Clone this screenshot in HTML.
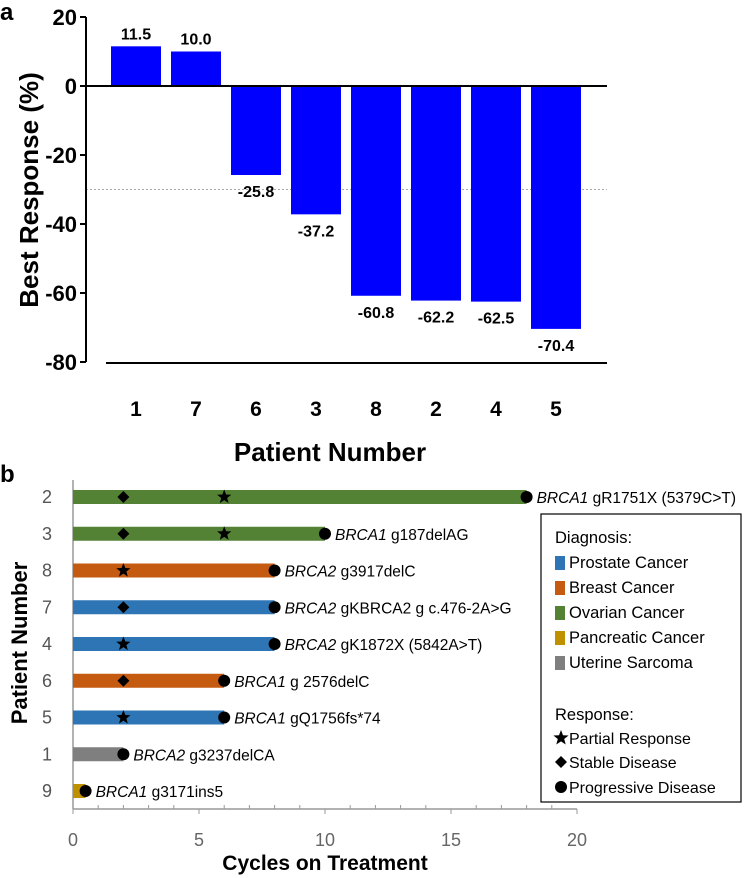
<!DOCTYPE html>
<html><head><meta charset="utf-8"><style>
body{margin:0;background:#fff;width:749px;height:878px;overflow:hidden}
svg{display:block}
</style></head><body>
<svg id="c" width="749" height="878" xmlns="http://www.w3.org/2000/svg">
<text x="0" y="20" font-family="Liberation Sans,sans-serif" font-weight="bold" font-size="24">a</text>
<text x="0" y="482" font-family="Liberation Sans,sans-serif" font-weight="bold" font-size="24">b</text>
<g id="ga"></g>
<g id="gb"></g>
</svg>
<script>
const patients=["1","7","6","3","8","2","4","5"];
const responses=[11.5,10.0,-25.8,-37.2,-60.8,-62.2,-62.5,-70.4];
const yTicks=[20,0,-20,-40,-60,-80];

const swimRows=["2","3","8","7","4","6","5","1","9"];
const swimCycles=[18,10,8,8,8,6,6,2,0.5];
const swimDiag=["ov","ov","br","pr","pr","br","pr","ut","pa"];
const swimMut=[["BRCA1"," gR1751X (5379C>T)"],["BRCA1"," g187delAG"],["BRCA2"," g3917delC"],["BRCA2"," gKBRCA2 g c.476-2A>G"],["BRCA2"," gK1872X (5842A>T)"],["BRCA1"," g 2576delC"],["BRCA1"," gQ1756fs*74"],["BRCA2"," g3237delCA"],["BRCA1"," g3171ins5"]];
const swimStable=[2,2,null,2,null,2,null,null,null];
const swimPartial=[6,6,2,null,2,null,2,null,null];
const xTicks=[0,5,10,15,20];

const NS="http://www.w3.org/2000/svg";
function mk(p,t,a,txt){const e=document.createElementNS(NS,t);for(const k in a)e.setAttribute(k,a[k]);if(txt!==undefined)e.textContent=txt;p.appendChild(e);return e;}
const F="Liberation Sans,sans-serif";

// Panel A
const ga=document.getElementById('ga');
const ya=v=>86-v*3.45;
const xa=i=>136+i*60;
mk(ga,'line',{x1:86,x2:607,y1:ya(-30),y2:ya(-30),stroke:'#aaa','stroke-width':1,'stroke-dasharray':'2,2'});
responses.forEach((v,i)=>{
  const r=mk(ga,'rect',{x:xa(i)-25,y:Math.min(ya(v),ya(0)),width:50,height:Math.abs(ya(v)-ya(0)),fill:'#0000ff'});
  
  
  const t=mk(ga,'text',{x:xa(i),y:v>0?ya(v)-7:ya(v)+22,'text-anchor':'middle','font-family':F,'font-weight':'bold','font-size':16},v.toFixed(1));
  
  
  const c=mk(ga,'text',{x:xa(i),y:416,'text-anchor':'middle','font-family':F,'font-weight':'bold','font-size':21},patients[i]);
  
  
});
mk(ga,'line',{x1:86,x2:607,y1:ya(0),y2:ya(0),stroke:'#000','stroke-width':2});
mk(ga,'line',{x1:86,x2:86,y1:ya(20),y2:ya(-80),stroke:'#000','stroke-width':2});
mk(ga,'line',{x1:106,x2:607,y1:363,y2:363,stroke:'#000','stroke-width':2});
yTicks.forEach(v=>{
  mk(ga,'line',{x1:80,x2:86,y1:ya(v),y2:ya(v),stroke:'#000','stroke-width':2});
  const t=mk(ga,'text',{x:77,y:ya(v)+8,'text-anchor':'end','font-family':F,'font-weight':'bold','font-size':22},String(v));
  
  
});
const yt=mk(ga,'text',{x:0,y:0,transform:'translate(38,190) rotate(-90)','text-anchor':'middle','font-family':F,'font-weight':'bold','font-size':26},'Best Response (%)');


const xt=mk(ga,'text',{x:330,y:461,'text-anchor':'middle','font-family':F,'font-weight':'bold','font-size':26},'Patient Number');



// Panel B
const gb=document.getElementById('gb');
const colors={pr:'#2e75b6',br:'#c55a11',ov:'#548235',pa:'#bf9000',ut:'#7f7f7f'};
const xb=v=>73+v*25.2;
const yb=i=>497+i*36.75;
mk(gb,'line',{x1:73,x2:73,y1:480,y2:809,stroke:'#999','stroke-width':1.5});
mk(gb,'line',{x1:73,x2:xb(20),y1:809,y2:809,stroke:'#999','stroke-width':1.5});
for(let v=0;v<=20;v++)mk(gb,'line',{x1:xb(v),x2:xb(v),y1:809,y2:v%5?805:814,stroke:'#999','stroke-width':1});
xTicks.forEach(v=>{
  const t=mk(gb,'text',{x:xb(v),y:846,'text-anchor':'middle','font-family':F,'font-size':18,fill:'#666'},String(v));
  
  
});
function star(p,cx,cy,r){let s='';for(let k=0;k<10;k++){const a=-Math.PI/2+k*Math.PI/5,rr=k%2?r*0.42:r;s+=(cx+rr*Math.cos(a)).toFixed(1)+','+(cy+rr*Math.sin(a)).toFixed(1)+' ';}return mk(p,'polygon',{points:s,fill:'#000'});}
function diamond(p,cx,cy,r){return mk(p,'polygon',{points:`${cx},${cy-r} ${cx+r},${cy} ${cx},${cy+r} ${cx-r},${cy}`,fill:'#000'});}
swimRows.forEach((p,i)=>{
  const y=yb(i);
  const r=mk(gb,'rect',{x:73,y:y-7,width:xb(swimCycles[i])-73,height:14,fill:colors[swimDiag[i]]});
  
  
  const l=mk(gb,'text',{x:52,y:y+6,'text-anchor':'end','font-family':F,'font-size':18,fill:'#555'},p);
  
  
  if(swimStable[i]!==null){const d=diamond(gb,xb(swimStable[i]),y,6);}
  if(swimPartial[i]!==null){const s=star(gb,xb(swimPartial[i]),y,7.5);}
  const c=mk(gb,'circle',{cx:xb(swimCycles[i]),cy:y,r:6,fill:'#000'});
  
  
  const t=mk(gb,'text',{x:xb(swimCycles[i])+10,y:y+6,'font-family':F,'font-size':15.5});
  
  
  mk(t,'tspan',{'font-style':'italic'},swimMut[i][0]);
  mk(t,'tspan',{},swimMut[i][1]);
});
const yt2=mk(gb,'text',{x:0,y:0,transform:'translate(27,643) rotate(-90)','text-anchor':'middle','font-family':F,'font-weight':'bold','font-size':22},'Patient Number');


const xt2=mk(gb,'text',{x:325,y:870,'text-anchor':'middle','font-family':F,'font-weight':'bold','font-size':21},'Cycles on Treatment');



// legend
const lg=mk(gb,'g',{});


mk(lg,'rect',{x:541,y:514,width:200,height:288,fill:'#fff',stroke:'#000','stroke-width':1.2});
mk(lg,'text',{x:555,y:543,'font-family':F,'font-size':16.5},'Diagnosis:');
const legItems=[['pr','Prostate Cancer'],['br','Breast Cancer'],['ov','Ovarian Cancer'],['pa','Pancreatic Cancer'],['ut','Uterine Sarcoma']];
legItems.forEach((d,k)=>{
  const y=568+k*25;
  mk(lg,'rect',{x:555,y:y-12,width:10,height:14,fill:colors[d[0]]});
  const t=mk(lg,'text',{x:569,y:y,'font-family':F,'font-size':16.5},d[1]);
  
  
});
mk(lg,'text',{x:555,y:720,'font-family':F,'font-size':16.5},'Response:');
star(lg,561,738,8);
diamond(lg,561,762,6);
mk(lg,'circle',{cx:561,cy:787,r:6,fill:'#000'});
[['Partial Response',744],['Stable Disease',768],['Progressive Disease',793]].forEach(d=>{
  const t=mk(lg,'text',{x:569,y:d[1],'font-family':F,'font-size':16},d[0]);
  
  
});
</script>
</body></html>
